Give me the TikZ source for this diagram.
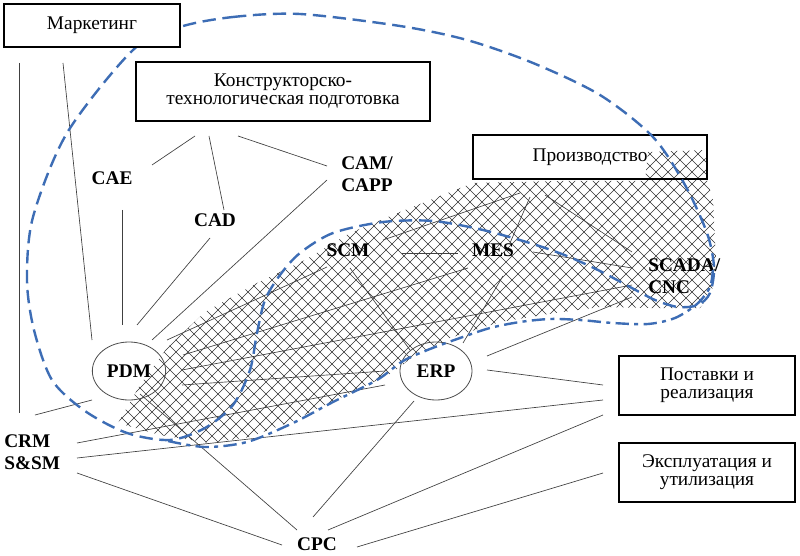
\documentclass[tikz,border=0pt]{standalone}
\usepackage{fontspec}
\setmainfont{Liberation Serif}
\usetikzlibrary{shapes.geometric}
\definecolor{curveblue}{HTML}{3D6DB5}
\begin{document}
\begin{tikzpicture}[x=0.75pt,y=-0.75pt,
  box/.style={draw=black,line width=1.1pt,inner sep=0pt,align=center,
    font=\fontsize{14.5}{13.5}\selectfont},
  lbl/.style={inner sep=0pt,align=left,font=\fontsize{14.5}{16.5}\selectfont\bfseries},
  oval/.style={ellipse,draw=black!70,line width=0.6pt,inner sep=0pt,
    minimum width=55pt,minimum height=43.5pt,font=\fontsize{14.5}{16.5}\selectfont\bfseries},
  conn/.style={draw=black!75,line width=0.5pt},
  hatchline/.style={draw=black!80,line width=0.45pt},
  zonedash/.style={draw=curveblue,line width=1.8pt,dash pattern=on 10pt off 5pt},
  zonedashdot/.style={draw=curveblue,line width=1.8pt,dash pattern=on 10pt off 4pt on 3pt off 4pt}]
\useasboundingbox (0,0) rectangle (800,556);
\fill[white] (0,0) rectangle (800,556);

% hatched zone
\begin{scope}
\clip (118,423) -- (140,385) -- (167,348) -- (205,312) -- (257,283) -- (305,260)
  -- (350,233) -- (400,212) -- (440,196) -- (473,183) -- (560,181) -- (645,181)
  -- (648,152) -- (705,150) -- (707,180) -- (713,200) -- (716,260) -- (712,292)
  -- (700,308) -- (650,308) -- (600,307) -- (555,313) -- (500,322) -- (450,338)
  -- (415,355) -- (392,373) -- (340,398) -- (290,422) -- (250,437) -- (210,443)
  -- (160,435) -- cycle;
\foreach \i in {0,...,140} {
  \draw[hatchline] ({-400+12*\i},100) -- ++(400,400);
  \draw[hatchline] ({-400+12*\i},100) -- ++(-400,400);
}
\end{scope}

% nodes
\node[box,fill=white,minimum width=132pt,minimum height=32.25pt] (mk) at (92,25.5) {Маркетинг};
\node[box,minimum width=220.5pt,minimum height=44.25pt] (kt) at (283,91.5) {Конструкторско-\\технологическая подготовка};
\node[box,minimum width=175.5pt,minimum height=33pt] (pr) at (590,157) {Производство};
\node[box,minimum width=132pt,minimum height=44.25pt] (ps) at (707,385.5) {Поставки и\\реализация};
\node[box,minimum width=132pt,minimum height=44.25pt] (eu) at (707,472.5) {Эксплуатация и\\утилизация};
\node[lbl] (cae) at (112,178) {CAE};
\node[lbl] (cad) at (215,220) {CAD};
\node[lbl,anchor=west] (cam) at (341,174) {CAM/\\CAPP};
\node[lbl] (scm) at (348,250) {SCM};
\node[lbl] (mes) at (493,250) {MES};
\node[lbl,anchor=west] (scada) at (648,276) {SCADA/\\CNC};
\node[oval] (pdm) at (129,371) {PDM};
\node[oval,minimum width=54pt] (erp) at (436,371) {ERP};
\node[lbl,anchor=west] (crm) at (4,452) {CRM\\S\&SM};
\node[lbl] (cpc) at (317,544) {CPC};

% connector end points
\coordinate (mkA) at (19,63);    \coordinate (crmA) at (19,413);
\coordinate (mkB) at (63,63);    \coordinate (pdmA) at (92,340);
\coordinate (ktA) at (195,136);  \coordinate (caeA) at (152,165);
\coordinate (ktB) at (209,136);  \coordinate (cadA) at (224,210);
\coordinate (ktC) at (238,136);  \coordinate (camA) at (327,166);
\coordinate (caeB) at (122,210); \coordinate (pdmB) at (122,325);
\coordinate (cadB) at (210,238); \coordinate (pdmC) at (137,325);
\coordinate (camB) at (327,180); \coordinate (pdmD) at (152,340);
\coordinate (pdmE) at (167,340); \coordinate (scmA) at (327,267);
\coordinate (pdmF) at (183,355); \coordinate (mesA) at (468,268);
\coordinate (pdmG) at (182,370); \coordinate (scadaA) at (632,285);
\coordinate (pdmH) at (182,385); \coordinate (erpA) at (385,371);
\coordinate (pdmI) at (140,394); \coordinate (cpcA) at (297,530);
\coordinate (crmB) at (35,415);  \coordinate (pdmJ) at (92,400);
\coordinate (crmC) at (77,443);  \coordinate (erpB) at (385,385);
\coordinate (ssmA) at (77,458);  \coordinate (psA) at (603,400);
\coordinate (ssmB) at (77,473);  \coordinate (cpcB) at (282,545);
\coordinate (erpC) at (487,370); \coordinate (psB) at (603,385);
\coordinate (erpD) at (487,356); \coordinate (scadaB) at (632,297);
\coordinate (erpE) at (414,401); \coordinate (cpcC) at (313,517);
\coordinate (erpF) at (463,343); \coordinate (mesB) at (503,276);
\coordinate (scmB) at (350,268); \coordinate (erpG) at (410,350);
\coordinate (scmC) at (402,253); \coordinate (mesC) at (458,253);
\coordinate (mesD) at (533,252); \coordinate (scadaC) at (632,268);
\coordinate (prA) at (520,193);  \coordinate (scmD) at (383,240);
\coordinate (prB) at (530,197);  \coordinate (mesE) at (510,243);
\coordinate (prC) at (545,195);  \coordinate (scadaD) at (632,252);
\coordinate (cpcD) at (328,530); \coordinate (psC) at (603,415);
\coordinate (cpcE) at (357,547); \coordinate (euA) at (603,473);

% connectors
\draw[conn] (mkA) -- (crmA);
\draw[conn] (mkB) -- (pdmA);
\draw[conn] (ktA) -- (caeA);
\draw[conn] (ktB) -- (cadA);
\draw[conn] (ktC) -- (camA);
\draw[conn] (caeB) -- (pdmB);
\draw[conn] (cadB) -- (pdmC);
\draw[conn] (camB) -- (pdmD);
\draw[conn] (pdmE) -- (scmA);
\draw[conn] (pdmF) -- (mesA);
\draw[conn] (pdmG) -- (scadaA);
\draw[conn] (pdmH) -- (erpA);
\draw[conn] (pdmI) -- (cpcA);
\draw[conn] (crmB) -- (pdmJ);
\draw[conn] (crmC) -- (erpB);
\draw[conn] (ssmA) -- (psA);
\draw[conn] (ssmB) -- (cpcB);
\draw[conn] (erpC) -- (psB);
\draw[conn] (erpD) -- (scadaB);
\draw[conn] (erpE) -- (cpcC);
\draw[conn] (erpF) -- (mesB);
\draw[conn] (scmB) -- (erpG);
\draw[conn] (scmC) -- (mesC);
\draw[conn] (mesD) -- (scadaC);
\draw[conn] (prA) -- (scmD);
\draw[conn] (prB) -- (mesE);
\draw[conn] (prC) -- (scadaD);
\draw[conn] (cpcD) -- (psC);
\draw[conn] (cpcE) -- (euA);

% zone outlines
\draw[zonedash] plot[smooth cycle] coordinates {
 (180,27) (233,17) (300,14) (400,26) (467,40) (533,63) (600,95) (653,137)
 (685,185) (707,233) (714,267) (710,293) (698,305) (678,307) (655,300)
 (630,287) (600,271) (567,256) (533,244) (483,230) (433,221) (383,222)
 (333,233) (300,253) (280,275) (265,300) (257,333) (250,370) (233,405)
 (205,428) (170,440) (127,433) (85,411) (52,380) (34,330) (27,280)
 (33,217) (67,133) (133,50)};
\draw[zonedashdot] plot[smooth] coordinates {
 (168,441) (205,447) (247,442) (293,423) (333,402) (377,380) (403,361)
 (430,349) (460,338) (490,328) (520,322) (550,319) (580,320) (613,323)
 (648,324) (675,318) (697,304) (710,287) (713,268)};

% redraw the box that hides the curve
\node[box,fill=white,minimum width=132pt,minimum height=32.25pt] at (mk) {Маркетинг};
\end{tikzpicture}
\end{document}
